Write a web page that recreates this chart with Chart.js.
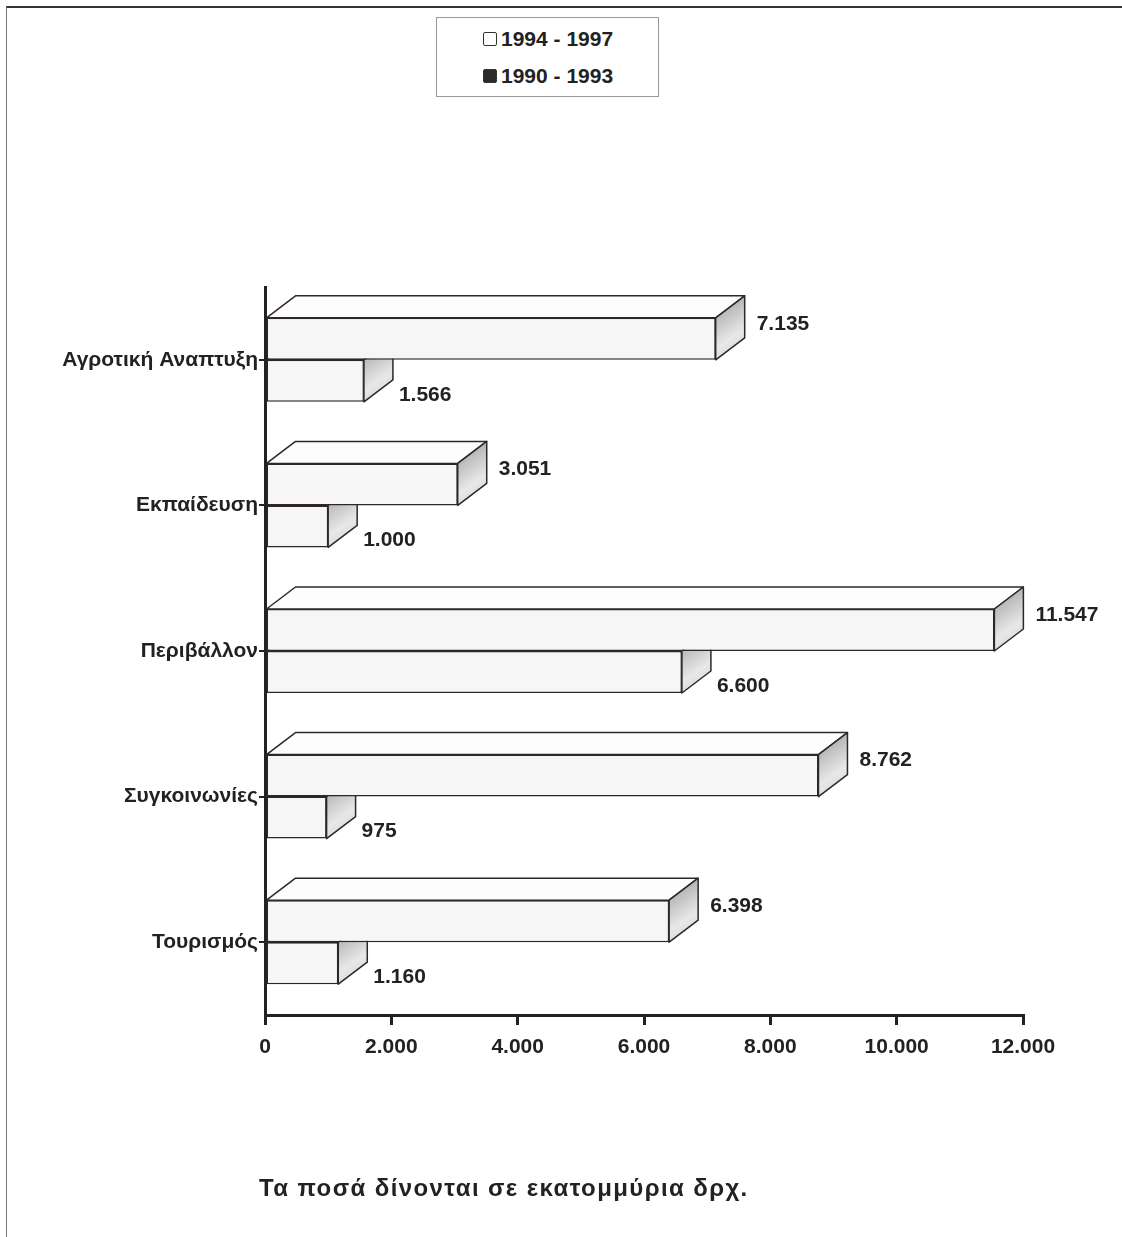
<!DOCTYPE html>
<html lang="el">
<head>
<meta charset="utf-8">
<title>Κατανομή ποσών ανά τομέα</title>
<script src="https://cdn.jsdelivr.net/npm/chart.js@4.4.1/dist/chart.umd.min.js"></script>
<style>
  html, body { margin: 0; padding: 0; background: #fff; }
  body { width: 1122px; height: 1237px; position: relative; overflow: hidden;
         font-family: "Liberation Sans", Arial, sans-serif; }
  #frame { position: absolute; left: 6px; top: 6px; width: 1120px; height: 1240px;
           border-top: 2px solid #333; border-left: 1px solid #777; box-sizing: border-box; }
  #chart { position: absolute; left: 0; top: 0; }
  #legend { position: absolute; left: 436px; top: 17px; width: 223px; height: 80px;
            border: 1px solid #999; box-sizing: border-box; background: #fff; }
  .row { position: absolute; left: 46px; font-weight: bold; font-size: 21px; color: #222;
         display: flex; align-items: center; line-height: 24px; }
  .box { width: 14px; height: 14px; border: 1.5px solid #333; border-radius: 2px;
         margin-right: 4px; box-sizing: border-box; }
  #note { position: absolute; left: 259px; top: 1174px; font-weight: bold; font-size: 24px;
          color: #222; letter-spacing: 1.4px; }
</style>
</head>
<body>
<div id="frame"></div>
<canvas id="chart" width="1122" height="1237"></canvas>
<div id="legend"></div>
<div id="note">Τα ποσά δίνονται σε εκατομμύρια δρχ.</div>
<script>
// Sectors and amounts (million drachmas) for the two periods
const categories = ['Αγροτική Αναπτυξη', 'Εκπαίδευση', 'Περιβάλλον', 'Συγκοινωνίες', 'Τουρισμός'];
const seriesLabels = ['1994 - 1997', '1990 - 1993'];
const values9497 = [7135, 3051, 11547, 8762, 6398];
const values9093 = [1566, 1000, 6600, 975, 1160];
const xTicks = [0, 2000, 4000, 6000, 8000, 10000, 12000];

const INK = '#2f2727';
const FONT = '"Liberation Sans", Arial, sans-serif';
const DX = 29, DY = 22;   // extrusion of the 3D bars

function fmt(v) {
  return String(v).replace(/\B(?=(\d{3})+(?!\d))/g, '.');
}

// HTML legend
const legendEl = document.getElementById('legend');
[['#fff', 9], ['#2a2a2a', 46]].forEach((s, i) => {
  const row = document.createElement('div');
  row.className = 'row';
  row.style.top = s[1] + 'px';
  const b = document.createElement('span');
  b.className = 'box';
  b.style.background = s[0];
  row.appendChild(b);
  row.appendChild(document.createTextNode(seriesLabels[i]));
  legendEl.appendChild(row);
});

// Top and side faces drawn after each dataset's front faces
const bars3d = {
  id: 'bars3d',
  afterDatasetDraw(chart, args) {
    const ctx = chart.ctx;
    ctx.save();
    ctx.lineWidth = 1.5;
    ctx.strokeStyle = INK;
    ctx.lineJoin = 'round';
    args.meta.data.forEach(el => {
      const p = el.getProps(['x', 'y', 'base', 'height'], true);
      const top = p.y - p.height / 2, bot = p.y + p.height / 2;
      // top face
      ctx.beginPath();
      ctx.moveTo(p.base, top);
      ctx.lineTo(p.base + DX, top - DY);
      ctx.lineTo(p.x + DX, top - DY);
      ctx.lineTo(p.x, top);
      ctx.closePath();
      ctx.fillStyle = '#fdfdfd';
      ctx.fill();
      ctx.stroke();
      // side face
      const g = ctx.createLinearGradient(p.x, top, p.x + DX, bot);
      g.addColorStop(0, '#b9b9b9');
      g.addColorStop(0.5, '#e8e8e8');
      g.addColorStop(1, '#cdcdcd');
      ctx.beginPath();
      ctx.moveTo(p.x, top);
      ctx.lineTo(p.x + DX, top - DY);
      ctx.lineTo(p.x + DX, bot - DY);
      ctx.lineTo(p.x, bot);
      ctx.closePath();
      ctx.fillStyle = g;
      ctx.fill();
      ctx.stroke();
    });
    ctx.restore();
  }
};

// Value labels beside each bar
const valueLabels = {
  id: 'valueLabels',
  afterDatasetsDraw(chart) {
    const ctx = chart.ctx;
    ctx.save();
    ctx.font = 'bold 21px ' + FONT;
    ctx.fillStyle = '#222';
    ctx.textAlign = 'left';
    ctx.textBaseline = 'middle';
    chart.data.datasets.forEach((ds, di) => {
      chart.getDatasetMeta(di).data.forEach((el, i) => {
        const p = el.getProps(['x', 'y'], true);
        const gap = di === 0 ? 12 : 6;
        const dy = di === 0 ? -15 : 14;
        ctx.fillText(fmt(ds.data[i]), p.x + DX + gap, p.y + dy);
      });
    });
    ctx.restore();
  }
};

const barStyle = { backgroundColor: '#f6f6f6', borderColor: INK, borderWidth: 1.5, borderSkipped: false };

new Chart(document.getElementById('chart'), {
  type: 'bar',
  data: {
    labels: categories,
    datasets: [
      Object.assign({ label: seriesLabels[0], data: values9497 }, barStyle),
      Object.assign({ label: seriesLabels[1], data: values9093 }, barStyle)
    ]
  },
  options: {
    indexAxis: 'y',
    responsive: false,
    animation: false,
    devicePixelRatio: 1,
    categoryPercentage: 0.577,
    barPercentage: 1,
    layout: { padding: { left: 0, top: 287, right: 99, bottom: 162 } },
    plugins: { legend: { display: false }, tooltip: { enabled: false }, colors: { enabled: false } },
    scales: {
      x: {
        min: 0, max: 12000,
        afterBuildTicks(scale) { scale.ticks = xTicks.map(v => ({ value: v })); },
        afterFit(scale) { scale.height = 60; },
        ticks: {
          callback: v => fmt(v),
          color: '#222', padding: 10, maxRotation: 0,
          font: { family: FONT, size: 21, weight: 'bold' }
        },
        grid: { drawOnChartArea: false, drawTicks: true, tickLength: 10, color: '#222', lineWidth: 3 },
        border: { display: true, color: '#222', width: 3 }
      },
      y: {
        afterFit(scale) { scale.width = 265; },
        ticks: {
          color: '#222', padding: 1,
          font: { family: FONT, size: 21, weight: 'bold' }
        },
        grid: { offset: false, drawOnChartArea: false, drawTicks: true, tickLength: 6, color: '#222', lineWidth: 2 },
        border: { display: true, color: '#222', width: 3 }
      }
    }
  },
  plugins: [bars3d, valueLabels]
});
</script>
</body>
</html>
